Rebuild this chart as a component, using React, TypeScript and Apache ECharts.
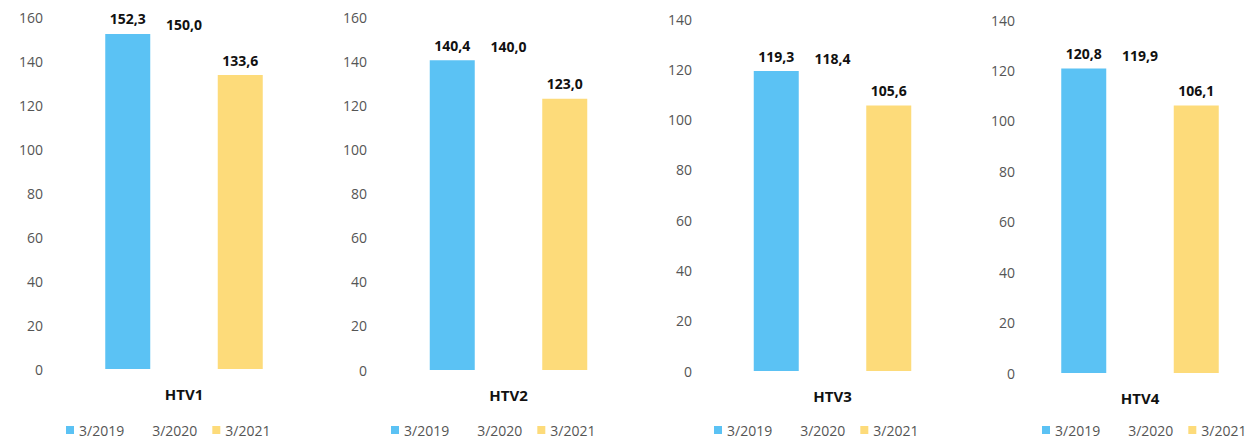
import React, { useEffect, useRef } from "react";
import * as echarts from "echarts";

const panels = ["HTV1", "HTV2", "HTV3", "HTV4"];
const seriesNames = ["3/2019", "3/2020", "3/2021"];
const values2019 = [152.3, 140.4, 119.3, 120.8];
const values2020 = [150.0, 140.0, 118.4, 119.9];
const values2021 = [133.6, 123.0, 105.6, 106.1];
const yMax = [160, 160, 140, 140];
const yInterval = 20;

const seriesColors = ["#5BC2F4", "#FFFFFF", "#FDDB7A"];
const gridLeft = [51, 375, 700, 1023];
const gridWidth = [266, 267, 265, 272];
const gridTop = [17, 17, 19, 20];
const gridZero = [369, 370, 371, 373];
const legendLeft = [66, 391, 714, 1042];

export default function App() {
  const ref = useRef<HTMLDivElement>(null);
  useEffect(() => {
    if (!ref.current) return;
    const chart = echarts.init(ref.current, null, { renderer: "svg" });
    const font = "'Open Sans', 'Noto Sans', sans-serif";
    const allValues = [values2019, values2020, values2021];
    const grids: any[] = [];
    const xAxes: any[] = [];
    const yAxes: any[] = [];
    const series: any[] = [];
    const legends: any[] = [];
    panels.forEach((p, i) => {
      grids.push({
        left: gridLeft[i],
        width: gridWidth[i],
        top: gridTop[i],
        height: gridZero[i] - gridTop[i],
      });
      xAxes.push({
        type: "category",
        gridIndex: i,
        data: [p],
        axisLine: { show: false },
        axisTick: { show: false },
        axisLabel: {
          margin: 17,
          fontFamily: font,
          fontSize: 15,
          fontWeight: "bold",
          color: "#111111",
        },
      });
      yAxes.push({
        type: "value",
        gridIndex: i,
        min: 0,
        max: yMax[i],
        interval: yInterval,
        splitLine: { show: false },
        axisLine: { show: false },
        axisTick: { show: false },
        axisLabel: { fontFamily: font, fontSize: 14, color: "#555555", margin: 8 },
      });
      seriesNames.forEach((name, k) => {
        series.push({
          type: "bar",
          name,
          xAxisIndex: i,
          yAxisIndex: i,
          data: [allValues[k][i]],
          barWidth: 45,
          barGap: "25%",
          itemStyle: { color: seriesColors[k] },
          label: {
            show: true,
            position: "top",
            distance: 8,
            fontFamily: font,
            fontSize: 14,
            fontWeight: "bold",
            color: "#111111",
            formatter: (v: any) => Number(v.value).toFixed(1).replace(".", ","),
          },
        });
      });
      legends.push({
        data: seriesNames,
        left: legendLeft[i],
        top: 423,
        padding: 0,
        orient: "horizontal",
        icon: "rect",
        itemWidth: 8,
        itemHeight: 8,
        itemGap: 15,
        textStyle: { fontFamily: font, fontSize: 14, color: "#555555" },
      });
    });
    chart.setOption({
      animation: false,
      backgroundColor: "#ffffff",
      grid: grids,
      xAxis: xAxes,
      yAxis: yAxes,
      series,
      legend: legends,
    });
    return () => chart.dispose();
  }, []);
  return (
    <div
      ref={ref}
      style={{ position: "absolute", left: 0, top: 0, width: 1257, height: 443 }}
    />
  );
}
